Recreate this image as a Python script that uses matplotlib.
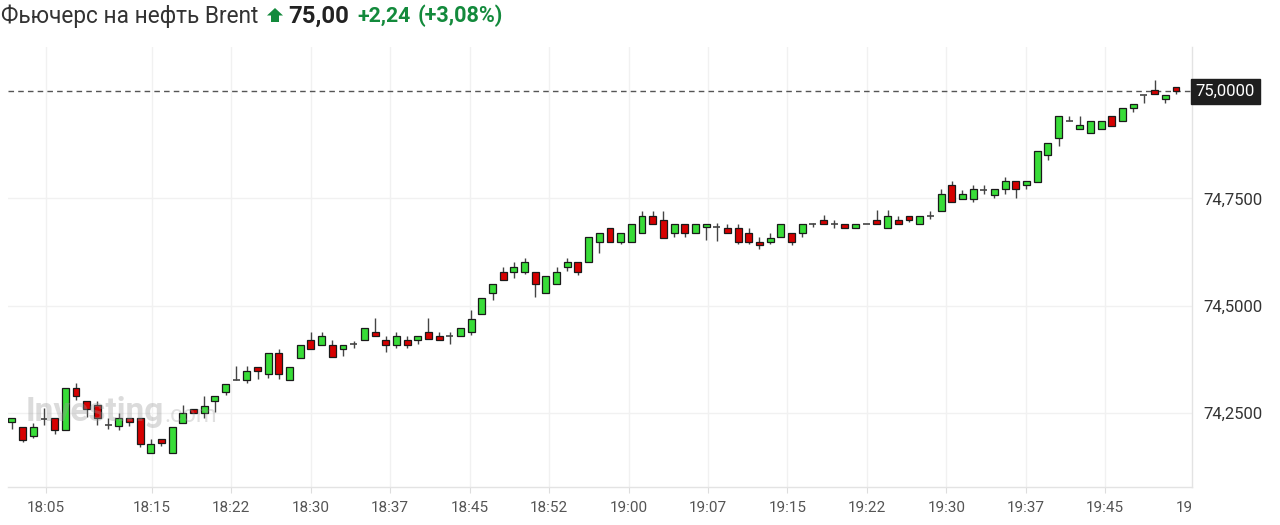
import numpy as np
import matplotlib.pyplot as plt
from matplotlib.patches import Polygon
from matplotlib.transforms import Bbox

# -----------------------------------------
# Data: 1-minute Brent candles, 18:02 - 19:51
# -----------------------------------------
opens = [
    74.229, 74.217, 74.196, 74.236, 74.238, 74.210, 74.308, 74.278, 74.269, 74.222,
    74.220, 74.238, 74.238, 74.157, 74.189, 74.157, 74.227, 74.259, 74.250, 74.278,
    74.299, 74.327, 74.327, 74.357, 74.341, 74.390, 74.327, 74.378, 74.420, 74.408,
    74.408, 74.399, 74.411, 74.420, 74.439, 74.420, 74.408, 74.420, 74.420, 74.439,
    74.429, 74.429, 74.429, 74.439, 74.481, 74.530, 74.579, 74.579, 74.579, 74.579,
    74.530, 74.551, 74.590, 74.602, 74.602, 74.648, 74.681, 74.648, 74.648, 74.669,
    74.709, 74.700, 74.669, 74.690, 74.669, 74.683, 74.683, 74.681, 74.681, 74.669,
    74.648, 74.648, 74.660, 74.669, 74.669, 74.690, 74.700, 74.690, 74.690, 74.681,
    74.690, 74.700, 74.681, 74.700, 74.709, 74.690, 74.709, 74.721, 74.781, 74.749,
    74.749, 74.770, 74.758, 74.772, 74.791, 74.781, 74.788, 74.851, 74.891, 74.930,
    74.912, 74.902, 74.912, 74.942, 74.930, 74.961, 74.991, 75.003, 74.982, 75.010,
]
highs = [
    74.238, 74.217, 74.227, 74.262, 74.238, 74.308, 74.320, 74.278, 74.278, 74.238,
    74.250, 74.238, 74.238, 74.189, 74.189, 74.217, 74.269, 74.259, 74.290, 74.290,
    74.318, 74.360, 74.360, 74.357, 74.390, 74.399, 74.357, 74.408, 74.439, 74.439,
    74.420, 74.408, 74.418, 74.448, 74.471, 74.429, 74.439, 74.429, 74.429, 74.471,
    74.439, 74.439, 74.448, 74.490, 74.518, 74.551, 74.590, 74.602, 74.611, 74.579,
    74.569, 74.590, 74.611, 74.602, 74.660, 74.669, 74.681, 74.669, 74.690, 74.721,
    74.721, 74.721, 74.690, 74.690, 74.690, 74.690, 74.693, 74.690, 74.690, 74.681,
    74.660, 74.669, 74.690, 74.669, 74.690, 74.693, 74.711, 74.700, 74.690, 74.690,
    74.690, 74.723, 74.723, 74.709, 74.709, 74.709, 74.721, 74.772, 74.791, 74.770,
    74.781, 74.781, 74.772, 74.800, 74.791, 74.791, 74.861, 74.879, 74.942, 74.942,
    74.942, 74.930, 74.930, 74.942, 74.961, 74.970, 74.991, 75.026, 74.991, 75.010,
]
lows = [
    74.213, 74.182, 74.192, 74.222, 74.201, 74.210, 74.280, 74.241, 74.222, 74.213,
    74.210, 74.220, 74.171, 74.157, 74.173, 74.157, 74.227, 74.250, 74.238, 74.252,
    74.292, 74.327, 74.320, 74.329, 74.332, 74.329, 74.327, 74.378, 74.399, 74.408,
    74.380, 74.383, 74.401, 74.420, 74.429, 74.392, 74.401, 74.401, 74.411, 74.422,
    74.420, 74.411, 74.429, 74.432, 74.481, 74.513, 74.560, 74.565, 74.574, 74.520,
    74.530, 74.551, 74.581, 74.572, 74.602, 74.623, 74.648, 74.644, 74.648, 74.669,
    74.690, 74.658, 74.660, 74.660, 74.669, 74.653, 74.651, 74.669, 74.644, 74.644,
    74.632, 74.644, 74.660, 74.641, 74.660, 74.683, 74.690, 74.681, 74.681, 74.681,
    74.690, 74.690, 74.681, 74.690, 74.695, 74.690, 74.702, 74.721, 74.742, 74.749,
    74.742, 74.760, 74.751, 74.760, 74.751, 74.772, 74.788, 74.840, 74.872, 74.930,
    74.912, 74.902, 74.912, 74.919, 74.930, 74.951, 74.972, 74.993, 74.972, 74.993,
]
closes = [
    74.238, 74.187, 74.217, 74.236, 74.210, 74.308, 74.290, 74.259, 74.238, 74.222,
    74.238, 74.229, 74.178, 74.178, 74.180, 74.217, 74.250, 74.250, 74.266, 74.290,
    74.318, 74.327, 74.348, 74.348, 74.390, 74.341, 74.357, 74.408, 74.399, 74.429,
    74.380, 74.408, 74.411, 74.448, 74.429, 74.408, 74.429, 74.408, 74.429, 74.422,
    74.420, 74.429, 74.448, 74.469, 74.518, 74.551, 74.560, 74.590, 74.602, 74.551,
    74.569, 74.579, 74.602, 74.579, 74.660, 74.669, 74.648, 74.669, 74.690, 74.709,
    74.690, 74.658, 74.690, 74.669, 74.690, 74.690, 74.683, 74.669, 74.648, 74.648,
    74.641, 74.658, 74.690, 74.648, 74.690, 74.690, 74.690, 74.690, 74.681, 74.690,
    74.690, 74.690, 74.709, 74.690, 74.700, 74.709, 74.709, 74.760, 74.742, 74.760,
    74.772, 74.770, 74.772, 74.791, 74.772, 74.791, 74.861, 74.879, 74.942, 74.930,
    74.921, 74.930, 74.930, 74.919, 74.961, 74.970, 74.991, 74.993, 74.991, 75.000,
]

first_candle = "18:02"
tick_labels = ["18:05", "18:15", "18:22", "18:30", "18:37", "18:45", "18:52", "19:00",
               "19:07", "19:15", "19:22", "19:30", "19:37", "19:45", "19:52"]
# tick times in minutes after 18:00 (half-minute ticks are shown truncated)
tick_minutes = [5, 15, 22.5, 30, 37.5, 45, 52.5, 60, 67.5, 75, 82.5, 90, 97.5, 105, 112.5]
y_ticks = [74.25, 74.50, 74.75]
last_price = 75.00

title_name = "Фьючерс на нефть Brent"
title_price = "75,00"
title_change = "+2,24"
title_pct = "(+3,08%)"

# -----------------------------------------
# Style
# -----------------------------------------
plt.rcParams["font.family"] = ["Roboto", "DejaVu Sans"]
up_color = "#38dc38"
down_color = "#d60000"
edge_color = "#1a1a1a"
wick_color = "#444444"
grid_color = "#f1f1f1"
text_color = "#333333"
green_text = "#138a3c"

o = np.array(opens)
h = np.array(highs)
l = np.array(lows)
c = np.array(closes)
x = np.arange(len(o))

# -----------------------------------------
# Figure
# -----------------------------------------
W, H = 1280, 525
fig = plt.figure(figsize=(W / 100, H / 100), dpi=100)
ax = fig.add_axes([8 / W, 1 - 487 / H, 1184 / W, 440 / H])

# grid
ax.set_axisbelow(True)
for yv in y_ticks:
    ax.axhline(yv, color=grid_color, lw=1, zorder=0)

# time -> candle position
t0 = int(first_candle[:2]) * 60 + int(first_candle[3:]) - 18 * 60
tick_pos = [(m - t0) * 0.992 + 0.2 for m in tick_minutes]
for tp in tick_pos[:-1]:
    ax.axvline(tp, color=grid_color, lw=1, zorder=0)

# last price line
ax.axhline(last_price, color="#555555", lw=1, ls=(0, (4, 3)), zorder=1)

# candles
body_w = 0.65
ax.vlines(x, l, h, color=wick_color, lw=1.0, zorder=2)
is_up = c > o
is_down = c < o
is_flat = c == o
ax.bar(x[is_up], (c - o)[is_up], bottom=o[is_up], width=body_w,
       color=up_color, edgecolor=edge_color, linewidth=0.9, zorder=3)
ax.bar(x[is_down], (o - c)[is_down], bottom=c[is_down], width=body_w,
       color=down_color, edgecolor=edge_color, linewidth=0.9, zorder=3)
ax.hlines(o[is_flat], x[is_flat] - body_w / 2, x[is_flat] + body_w / 2,
          color=wick_color, lw=1.2, zorder=3)

ax.set_xlim(-0.37, 110.5)
ax.set_ylim(74.078, 75.1025)

# axes styling
for side in ["top", "left"]:
    ax.spines[side].set_visible(False)
for side in ["right", "bottom"]:
    ax.spines[side].set_color("#e3e3e3")
    ax.spines[side].set_linewidth(1)

ax.yaxis.tick_right()
ax.set_yticks(y_ticks)
ax.set_yticklabels([f"{v:.4f}".replace(".", ",") for v in y_ticks])
ax.tick_params(axis="y", length=0, pad=8, labelsize=12, labelcolor=text_color)

ax.set_xticks(tick_pos[:-1])
ax.set_xticklabels(tick_labels[:-1])
ax.tick_params(axis="x", length=4, color="#dddddd", pad=6, labelsize=11,
               labelcolor="#555555")

# last time label, cut at the plot's right edge
t_last = ax.annotate(tick_labels[-1], xy=(tick_pos[-1] + 1.0, 0),
                     xycoords=("data", "axes fraction"),
                     xytext=(0, -10), textcoords="offset points",
                     ha="center", va="top", fontsize=11, color="#555555",
                     annotation_clip=False)
t_last.set_clip_box(Bbox.from_extents(0, 0, 1191, H))
t_last.set_clip_on(True)

# last price box
ax.text(1.003, last_price, f"{last_price:.4f}".replace(".", ","),
        transform=ax.get_yaxis_transform(), ha="left", va="center",
        fontsize=12, color="white",
        bbox=dict(boxstyle="square,pad=0.3", fc="#1e1e1e", ec="#1e1e1e"))

# watermark
fig.text(26 / W, 1 - 412 / H, "Investing", fontsize=24, fontweight="bold",
         color="#9a9a9a", alpha=0.35, va="center", ha="left")
fig.text(164 / W, 1 - 415 / H, ".com", fontsize=17,
         color="#9a9a9a", alpha=0.3, va="center", ha="left")

# -----------------------------------------
# Title line
# -----------------------------------------
ty = 1 - 16 / H
fig.text(1 / W, ty, title_name, fontsize=16.3, color=text_color, va="center")

# up arrow (house shape)
arrow_px = [(275, 8), (283, 15.5), (279, 15.5), (279, 22), (271, 22), (271, 15.5), (267, 15.5)]
arrow = Polygon([(px / W, 1 - py / H) for px, py in arrow_px], closed=True,
                transform=fig.transFigure, fc=green_text, ec="none")
fig.patches.append(arrow)

fig.text(288 / W, ty, title_price, fontsize=17.2, fontweight="bold",
         color="#222222", va="center")
fig.text(357 / W, ty, title_change, fontsize=15.3, fontweight="bold",
         color=green_text, va="center")
fig.text(418 / W, ty, title_pct, fontsize=15.6, fontweight="bold",
         color=green_text, va="center")

fig.savefig("out.png", dpi=100)
